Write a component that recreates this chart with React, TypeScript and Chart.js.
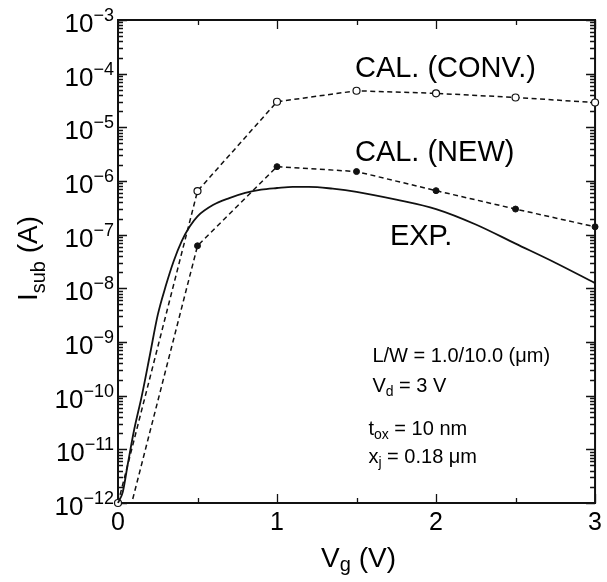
import React, { useEffect, useRef } from 'react';
import { Chart, registerables } from 'chart.js';

Chart.register(...registerables);

// ---- data ----
const VG_CAL = [0, 0.5, 1, 1.5, 2, 2.5, 3];
const ISUB_CONV = [1e-12, 6.5e-7, 3.0e-5, 4.8e-5, 4.3e-5, 3.6e-5, 2.9e-5];
const ISUB_NEW = [1e-13, 6.2e-8, 1.85e-6, 1.5e-6, 6.6e-7, 3.0e-7, 1.4e-7];

const VG_EXP = [0, 0.03, 0.06, 0.1, 0.15, 0.2, 0.25, 0.3, 0.35, 0.4, 0.45, 0.5, 0.6, 0.7, 0.8, 0.9, 1.0, 1.1, 1.2, 1.35, 1.5, 1.75, 2.0, 2.25, 2.5, 2.75, 3.0];
const ISUB_EXP = [1e-12, 1.6e-12, 5e-12, 2.2e-11, 1e-10, 5.6e-10, 3.2e-9, 1.1e-8, 3.2e-8, 7.5e-8, 1.4e-7, 2.2e-7, 3.6e-7, 4.8e-7, 6.0e-7, 6.9e-7, 7.4e-7, 7.8e-7, 7.8e-7, 7.2e-7, 6.3e-7, 4.5e-7, 3.0e-7, 1.55e-7, 6.8e-8, 3.0e-8, 1.25e-8];

const X_MAJOR_TICKS = [0, 1, 2, 3];
const X_MINOR_TICKS = [0.5, 1.5, 2.5];
const Y_EXPONENTS = [-12, -11, -10, -9, -8, -7, -6, -5, -4, -3];

const LABEL_CONV = 'CAL. (CONV.)';
const LABEL_NEW = 'CAL. (NEW)';
const LABEL_EXP = 'EXP.';

const FONT = '"Liberation Sans", Arial, Helvetica, sans-serif';

type Seg = { t: string; size: number; dy: number };

function segWidth(ctx: CanvasRenderingContext2D, segs: Seg[]) {
  let w = 0;
  for (const s of segs) {
    ctx.font = `${s.size}px ${FONT}`;
    w += ctx.measureText(s.t).width;
  }
  return w;
}

function drawRich(ctx: CanvasRenderingContext2D, segs: Seg[], x: number, y: number, align: 'left' | 'right' | 'center') {
  const w = segWidth(ctx, segs);
  let cx = align === 'left' ? x : align === 'right' ? x - w : x - w / 2;
  ctx.textAlign = 'left';
  ctx.textBaseline = 'alphabetic';
  for (const s of segs) {
    ctx.font = `${s.size}px ${FONT}`;
    ctx.fillText(s.t, cx, y + s.dy);
    cx += ctx.measureText(s.t).width;
  }
}

const framePlugin = {
  id: 'frameTicks',
  beforeDatasetsDraw(chart: any) {
    const { ctx, chartArea: a, scales } = chart;
    const xs = scales.x;
    const ys = scales.y;
    ctx.save();
    ctx.strokeStyle = '#111';
    ctx.lineWidth = 1.3;
    ctx.beginPath();
    // y ticks (left & right, inward)
    for (const e of Y_EXPONENTS) {
      for (let m = 1; m <= 9; m++) {
        const v = m * Math.pow(10, e);
        if (v > 1.0001e-3) continue;
        const py = Math.round(ys.getPixelForValue(v)) + 0.5;
        const len = m === 1 ? 9 : 5;
        ctx.moveTo(a.left, py);
        ctx.lineTo(a.left + len, py);
        ctx.moveTo(a.right, py);
        ctx.lineTo(a.right - len, py);
      }
    }
    // x ticks (bottom & top, inward)
    const xt = [...X_MAJOR_TICKS.map((v) => [v, 9]), ...X_MINOR_TICKS.map((v) => [v, 5])];
    for (const [v, len] of xt) {
      const px = Math.round(xs.getPixelForValue(v)) + 0.5;
      ctx.moveTo(px, a.bottom);
      ctx.lineTo(px, a.bottom - len);
      ctx.moveTo(px, a.top);
      ctx.lineTo(px, a.top + len);
    }
    ctx.stroke();
    ctx.lineWidth = 2;
    ctx.strokeRect(a.left, a.top, a.right - a.left, a.bottom - a.top);
    ctx.restore();
  },
  afterDraw(chart: any) {
    const { ctx, chartArea: a, scales } = chart;
    const xs = scales.x;
    const ys = scales.y;
    ctx.save();
    ctx.fillStyle = '#000';

    // y tick labels 10^n
    for (const e of Y_EXPONENTS) {
      const py = ys.getPixelForValue(Math.pow(10, e));
      drawRich(
        ctx,
        [
          { t: '10', size: 26, dy: 11 },
          { t: '\u2212' + String(Math.abs(e)), size: 18, dy: 0 },
        ],
        a.left - 4,
        py + 1,
        'right'
      );
    }

    // y axis title
    ctx.save();
    ctx.translate(37, (a.top + a.bottom) / 2 - 3);
    ctx.rotate(-Math.PI / 2);
    drawRich(
      ctx,
      [
        { t: 'I', size: 28, dy: 0 },
        { t: 'sub', size: 20, dy: 8 },
        { t: ' (A)', size: 28, dy: 0 },
      ],
      0,
      0,
      'center'
    );
    ctx.restore();

    // x axis title
    drawRich(
      ctx,
      [
        { t: 'V', size: 28, dy: 0 },
        { t: 'g', size: 20, dy: 4 },
        { t: ' (V)', size: 28, dy: 0 },
      ],
      (a.left + a.right) / 2 + 2,
      567,
      'center'
    );

    // curve labels (anchored in data coordinates)
    const big = 29;
    const bigHalfCap = 10.4;
    drawRich(ctx, [{ t: LABEL_CONV, size: big, dy: 0 }], xs.getPixelForValue(1.49), ys.getPixelForValue(Math.pow(10, -3.86)) + bigHalfCap, 'left');
    drawRich(ctx, [{ t: LABEL_NEW, size: big, dy: 0 }], xs.getPixelForValue(1.49), ys.getPixelForValue(Math.pow(10, -5.44)) + bigHalfCap, 'left');
    drawRich(ctx, [{ t: LABEL_EXP, size: big, dy: 0 }], xs.getPixelForValue(1.71), ys.getPixelForValue(Math.pow(10, -7.0)) + bigHalfCap, 'left');

    // device conditions
    const sm = 20;
    const smHalfCap = 7.2;
    const sub = 14;
    drawRich(ctx, [{ t: 'L/W = 1.0/10.0 (\u03bcm)', size: sm, dy: 0 }], xs.getPixelForValue(1.60), ys.getPixelForValue(Math.pow(10, -9.24)) + smHalfCap, 'left');
    drawRich(
      ctx,
      [
        { t: 'V', size: sm, dy: 0 },
        { t: 'd', size: sub, dy: 4 },
        { t: ' = 3 V', size: sm, dy: 0 },
      ],
      xs.getPixelForValue(1.60),
      ys.getPixelForValue(Math.pow(10, -9.8)) + smHalfCap,
      'left'
    );
    drawRich(
      ctx,
      [
        { t: 't', size: sm, dy: 0 },
        { t: 'ox', size: sub, dy: 4 },
        { t: ' = 10 nm', size: sm, dy: 0 },
      ],
      xs.getPixelForValue(1.575),
      ys.getPixelForValue(Math.pow(10, -10.6)) + smHalfCap,
      'left'
    );
    drawRich(
      ctx,
      [
        { t: 'x', size: sm, dy: 0 },
        { t: 'j', size: sub, dy: 4 },
        { t: ' = 0.18 \u03bcm', size: sm, dy: 0 },
      ],
      xs.getPixelForValue(1.575),
      ys.getPixelForValue(Math.pow(10, -11.12)) + smHalfCap,
      'left'
    );
    ctx.restore();
  },
};

export default function App() {
  const canvasRef = useRef<HTMLCanvasElement | null>(null);

  useEffect(() => {
    if (!canvasRef.current) return;
    const chart = new Chart(canvasRef.current, {
      type: 'line',
      data: {
        datasets: [
          {
            label: LABEL_EXP,
            data: VG_EXP.map((x, i) => ({ x, y: ISUB_EXP[i] })),
            borderColor: '#111',
            borderWidth: 1.8,
            pointRadius: 0,
            cubicInterpolationMode: 'monotone',
            fill: false,
            clip: 2,
          } as any,
          {
            label: LABEL_CONV,
            data: VG_CAL.map((x, i) => ({ x, y: ISUB_CONV[i] })),
            borderColor: '#111',
            borderWidth: 1.5,
            borderDash: [5, 3.5],
            pointRadius: 3.5,
            pointBackgroundColor: '#fff',
            pointBorderColor: '#111',
            pointBorderWidth: 1.2,
            tension: 0,
            fill: false,
            clip: 8,
          } as any,
          {
            label: LABEL_NEW,
            data: VG_CAL.map((x, i) => ({ x, y: ISUB_NEW[i] })),
            borderColor: '#111',
            borderWidth: 1.5,
            borderDash: [5, 3.5],
            pointRadius: VG_CAL.map((_, i) => (i === 0 ? 0 : 3)),
            pointBackgroundColor: '#111',
            pointBorderColor: '#111',
            pointBorderWidth: 1,
            tension: 0,
            fill: false,
            clip: { left: 8, right: 8, top: 8, bottom: 0 },
          } as any,
        ],
      },
      options: {
        animation: false,
        responsive: false,
        devicePixelRatio: 1,
        layout: { padding: { top: 20, right: 9, left: 0, bottom: 0 } },
        plugins: {
          legend: { display: false },
          tooltip: { enabled: false },
        },
        scales: {
          x: {
            type: 'linear',
            min: 0,
            max: 3,
            afterBuildTicks: (s: any) => {
              s.ticks = X_MAJOR_TICKS.map((v) => ({ value: v }));
            },
            ticks: {
              color: '#000',
              font: { family: FONT, size: 25 },
              padding: 5,
              maxRotation: 0,
            },
            grid: { display: false, drawTicks: false },
            border: { display: false },
            afterFit: (s: any) => {
              s.height = 79;
            },
          },
          y: {
            type: 'logarithmic',
            min: 1e-12,
            max: 1e-3,
            ticks: { display: false },
            grid: { display: false, drawTicks: false },
            border: { display: false },
            afterFit: (s: any) => {
              s.width = 118;
            },
          },
        },
      } as any,
      plugins: [framePlugin],
    });
    return () => chart.destroy();
  }, []);

  return (
    <div style={{ position: 'absolute', left: 0, top: 0, width: 607, height: 582, background: '#fff' }}>
      <canvas ref={canvasRef} width={607} height={582} />
    </div>
  );
}
